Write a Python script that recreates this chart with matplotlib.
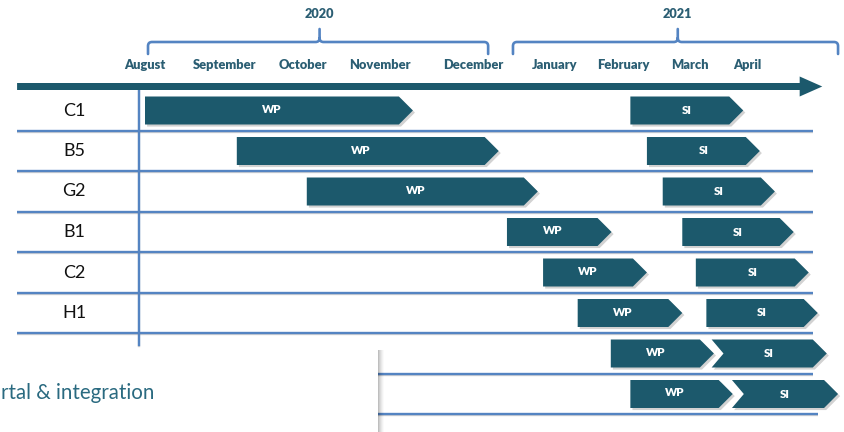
import matplotlib
matplotlib.use("Agg")
import matplotlib.pyplot as plt
from matplotlib.patches import Polygon, Rectangle, PathPatch
from matplotlib.path import Path
import matplotlib.patheffects as pe

plt.rcParams['font.family'] = ['Lato', 'DejaVu Sans']

# ---------------- data ----------------
rows = ["C1", "B5", "G2", "B1", "C2", "H1", "", ""]
wp_start = [0.00, 1.22, 2.15, 4.81, 5.29, 5.75, 6.19, 6.45]
wp_end = [3.56, 4.70, 5.22, 6.20, 6.67, 7.14, 7.56, 7.81]
si_start = [6.45, 6.67, 6.88, 7.14, 7.32, 7.46, 7.53, 7.80]
si_end = [7.95, 8.17, 8.37, 8.62, 8.82, 8.94, 9.06, 9.21]
si_chevron = [False, False, False, False, False, False, True, True]
wp_label = "WP"
si_label = "SI"

months = ["August", "September", "October", "November", "December",
          "January", "February", "March", "April"]
month_x = [0.0, 1.057, 2.10, 3.12, 4.36, 5.44, 6.35, 7.24, 8.0]

years = ["2020", "2021"]
year_left = [0.04, 4.89]
year_right = [4.56, 9.21]
year_mid = [2.32, 7.08]

overlay_text = "rtal & integration"

# ---------------- style ----------------
BAR = "#1c596c"
LINE = "#5484c2"
TXT = "#2b5e73"

fig = plt.figure(figsize=(8.45, 4.32), dpi=100)
ax = fig.add_axes([0, 0, 1, 1])
# x: months (75.25 px / month, August at px 145); y: row index (40.5 px / row)
ax.set_xlim(-145 / 75.25, (845 - 145) / 75.25)
ax.set_ylim((432 - 110.5) / 40.5, -110.5 / 40.5)
ax.axis("off")

px = 1 / 75.25   # one pixel in x units
py = 1 / 40.5    # one pixel in y units


def ypx(v):
    return (v - 110.5) / 40.5


# top timeline arrow
yc = ypx(86.5)
sh, hh = 3.5 * py, 10 * py
x0, xb, xt = -1.70, 8.70, 9.0
arrow = Polygon([(x0, yc - sh), (xb, yc - sh), (xb, yc - hh), (xt, yc),
                 (xb, yc + hh), (xb, yc + sh), (x0, yc + sh)],
                closed=True, fc=BAR, ec="none", zorder=3)
ax.add_patch(arrow)


# braces
def brace(xl, xr, xm, ybar, yend, ytop, r=4):
    rx, ry = r * px, r * py
    verts = [(xl, yend), (xl, ybar + ry), (xl, ybar), (xl + rx, ybar),
             (xm - rx, ybar), (xm, ybar), (xm, ybar - ry), (xm, ytop),
             (xm, ybar - ry), (xm, ybar), (xm + rx, ybar),
             (xr - rx, ybar), (xr, ybar), (xr, ybar + ry), (xr, yend)]
    codes = [Path.MOVETO, Path.LINETO, Path.CURVE3, Path.CURVE3,
             Path.LINETO, Path.CURVE3, Path.CURVE3, Path.LINETO,
             Path.MOVETO, Path.CURVE3, Path.CURVE3,
             Path.LINETO, Path.CURVE3, Path.CURVE3, Path.LINETO]
    return Path(verts, codes)


for i, yr in enumerate(years):
    p = brace(year_left[i], year_right[i], year_mid[i], ypx(42), ypx(54), ypx(29))
    ax.add_patch(PathPatch(p, fc="none", ec=LINE, lw=1.9, capstyle="round",
                           joinstyle="round", zorder=3))
    ax.text(year_mid[i], ypx(14), yr, ha="center", va="center",
            fontsize=9.2, fontweight="heavy", color=TXT)

for m, x in zip(months, month_x):
    ax.text(x, ypx(65), m, ha="center", va="center", fontsize=9.3,
            fontweight="heavy", color=TXT)

# grid lines
line_fx = [pe.SimpleLineShadow(offset=(0, -1), shadow_color="gray", alpha=0.35),
           pe.Normal()]
for i in range(len(rows)):
    yl = i + 20 * py
    xe = 8.94 if i == len(rows) - 1 else 8.88
    ax.plot([-1.70, xe], [yl, yl], color=LINE, lw=1.7,
            solid_capstyle="butt", path_effects=line_fx, zorder=2)
ax.plot([-0.08, -0.08], [yc, ypx(345)], color=LINE, lw=1.7,
        path_effects=line_fx, zorder=2)

# bars
hb = 14 * py
tip = 14 * px
bar_fx = [pe.SimplePatchShadow(offset=(1.5, -1.5), shadow_rgbFace="gray",
                               alpha=0.35), pe.Normal()]


def shape(xs, xe, yc, chevron=False):
    pts = [(xs, yc - hb), (xe - tip, yc - hb), (xe, yc), (xe - tip, yc + hb),
           (xs, yc + hb)]
    if chevron:
        pts.append((xs + tip * 0.85, yc))
    return Polygon(pts, closed=True, fc=BAR, ec="none", zorder=4,
                   path_effects=bar_fx)


for i, name in enumerate(rows):
    if name:
        ax.text(-0.944, i, name, ha="center", va="center", fontsize=13,
                color="#111111")
    ax.add_patch(shape(wp_start[i], wp_end[i], i))
    ax.text((wp_start[i] + wp_end[i] - tip) / 2, i - 1 * py, wp_label,
            ha="center", va="center", fontsize=8.3, fontweight="heavy",
            color="white", zorder=5)
    ax.add_patch(shape(si_start[i], si_end[i], i, si_chevron[i]))
    ax.text((si_start[i] + si_end[i]) / 2, i, si_label,
            ha="center", va="center", fontsize=8.3, fontweight="heavy",
            color="white", zorder=5)

# overlay box (cropped slide element) with soft right-hand shadow
bx0, bx1 = -145 / 75.25, (378 - 145) / 75.25
by0, by1 = ypx(348), ypx(440)
for k, a in zip(range(6, 0, -1), [0.02, 0.03, 0.04, 0.05, 0.06, 0.08]):
    ax.add_patch(Rectangle((bx0, by0 + 2 * py), bx1 - bx0 + k * px,
                           by1 - by0, fc="black", ec="none", alpha=a,
                           zorder=6))
ax.add_patch(Rectangle((bx0, by0), bx1 - bx0, by1 - by0, fc="white",
                       ec="none", zorder=7))
ax.text(bx0 + 1 * px, ypx(393), overlay_text, ha="left", va="center",
        fontsize=14.8, color="#2a6a80", zorder=8)

fig.savefig("out.png", dpi=100)
